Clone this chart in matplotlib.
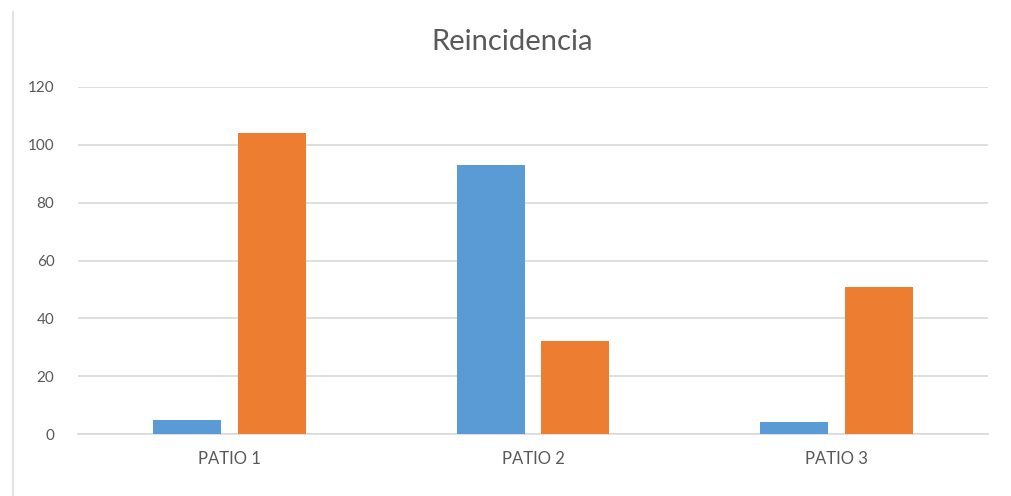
import matplotlib
matplotlib.use("Agg")
import matplotlib.pyplot as plt
from matplotlib.lines import Line2D
import numpy as np

categories = ["PATIO 1", "PATIO 2", "PATIO 3"]
series_a = [5, 93, 4]
series_b = [104, 32, 51]
title = "Reincidencia"
yticks = [0, 20, 40, 60, 80, 100, 120]

plt.rcParams['font.family'] = ['Lato', 'DejaVu Sans']
grey = "#595959"

fig = plt.figure(figsize=(10.12, 4.96), dpi=100)
ax = fig.add_axes([78/1012, 1-434/496, 910/1012, (434-87)/496])

x = np.arange(len(categories))
w = 0.224
off = 0.14
ax.bar(x - off, series_a, width=w, color="#5B9BD5", zorder=3)
ax.bar(x + off, series_b, width=w, color="#ED7D31", zorder=3)

ax.set_xlim(-0.5, 2.5)
ax.set_ylim(0, 120)
ax.set_yticks(yticks)
ax.set_yticklabels([str(v) for v in yticks])
ax.set_xticks(x)
ax.set_xticklabels(categories)
ax.yaxis.grid(True, color="#D9D9D9", linewidth=1.2, zorder=0)
ax.set_axisbelow(True)
for s in ["top", "right", "left"]:
    ax.spines[s].set_visible(False)
ax.spines["bottom"].set_color("#D9D9D9")
ax.spines["bottom"].set_linewidth(1.2)
ax.tick_params(axis="y", length=0, colors=grey, labelsize=11, pad=17)
ax.tick_params(axis="x", length=0, colors=grey, labelsize=12, pad=12)

fig.text(512/1012, 1-42/496, title, ha="center", va="center", fontsize=21, color=grey)

fig.add_artist(Line2D([13/1012, 13/1012], [0, 1-12/496], transform=fig.transFigure,
                      color="#E3E3E3", linewidth=1.5))

fig.savefig("out.png", dpi=100)
